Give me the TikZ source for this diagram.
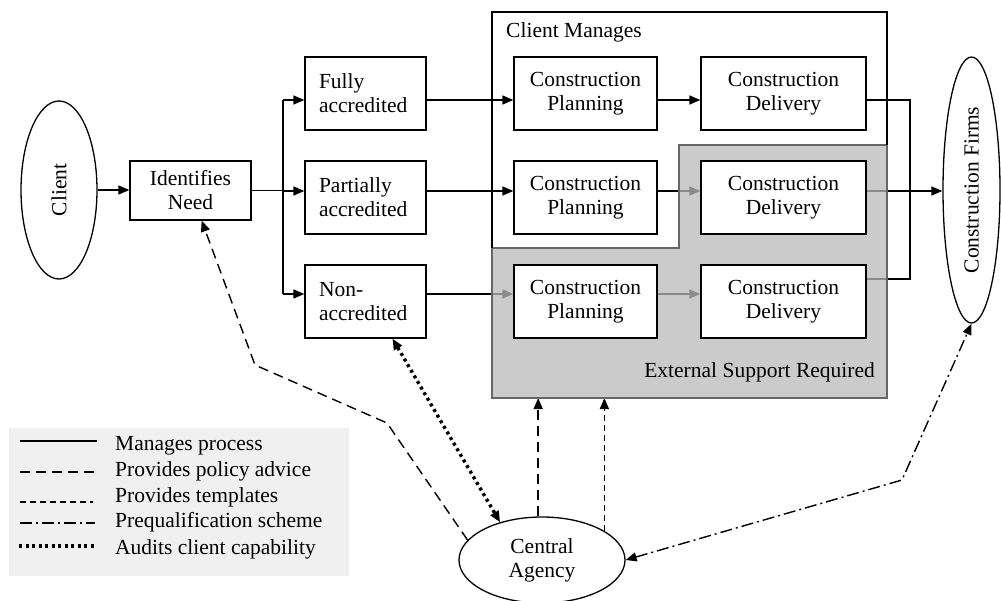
\documentclass[tikz,border=0pt]{standalone}
\usepackage{fontspec}
\setmainfont{Liberation Serif}
\usetikzlibrary{shapes.geometric,arrows.meta}
\pgfdeclarelayer{lines}
\pgfdeclarelayer{shade}
\pgfsetlayers{lines,shade,main}
\definecolor{legendbg}{HTML}{F0F0F0}
\begin{document}
\begin{tikzpicture}[x=1pt,y=-1pt,
  every node/.style={font=\fontsize{21.5}{24}\selectfont, inner sep=0pt},
  box/.style={draw, line width=1.3pt, fill=white, rectangle},
  ell/.style={draw, line width=1.3pt, ellipse, fill=white},
  conn/.style={line width=1.6pt},
  tip/.style={-{Triangle[length=11pt,width=9pt]}},
  bothtips/.style={{Triangle[length=11pt,width=9pt]}-{Triangle[length=11pt,width=9pt]}},
  policy/.style={line width=1.4pt, dash pattern=on 10pt off 6pt},
  tmpl/.style={line width=1.4pt, dash pattern=on 6pt off 4pt},
  prequal/.style={line width=1.4pt, dash pattern=on 12pt off 4pt on 2pt off 4pt},
  audit/.style={line width=3.4pt, dash pattern=on 3pt off 3.5pt},
  lefttxt/.style={text width=93pt, align=left},
]
\useasboundingbox (0,0) rectangle (1001,601);

% nodes
\node[ell, minimum width=76pt, minimum height=178pt] (client) at (59,190) {\rotatebox{90}{Client}};
\node[box, minimum width=121pt, minimum height=59pt, align=center] (idn) at (190.5,190.5) {Identifies\\Need};
\node[box, minimum width=121pt, minimum height=73pt, lefttxt] (fa) at (365.5,93.5) {Fully\\accredited};
\node[box, minimum width=121pt, minimum height=73pt, lefttxt] (pa) at (365.5,197.5) {Partially\\accredited};
\node[box, minimum width=121pt, minimum height=73pt, lefttxt] (na) at (365.5,301.5) {Non-\\accredited};

\node[box, minimum width=143pt, minimum height=73pt, align=center] (cp1) at (585.5,93.5) {Construction\\Planning};
\node[box, minimum width=143pt, minimum height=73pt, align=center] (cp2) at (585.5,197.5) {Construction\\Planning};
\node[box, minimum width=143pt, minimum height=73pt, align=center] (cp3) at (585.5,301.5) {Construction\\Planning};
\node[box, minimum width=165pt, minimum height=73pt, align=center] (cd1) at (783.5,93.5) {Construction\\Delivery};
\node[box, minimum width=165pt, minimum height=73pt, align=center] (cd2) at (783.5,197.5) {Construction\\Delivery};
\node[box, minimum width=165pt, minimum height=73pt, align=center] (cd3) at (783.5,301.5) {Construction\\Delivery};

\node[ell, minimum width=57pt, minimum height=266pt] (cf) at (971.5,190) {\rotatebox{90}{Construction Firms}};
\node[ell, minimum width=166pt, minimum height=86pt, align=center] (ca) at (542,560) {Central\\Agency};

\node[anchor=west] (cm) at (506,32) {Client Manages};
\node[anchor=east] (esr) at (875,372) {External Support Required};

% white "Client Manages" frame
\draw[line width=1.3pt] (492,248) -- (492,12) -- (887,12) -- (887,145);

% grey "external support" region
\begin{pgfonlayer}{shade}
\fill[black!27, fill opacity=0.75] (492,248) -- (679,248) -- (679,145) -- (887,145) -- (887,398) -- (492,398) -- cycle;
\draw[black!60, line width=1.3pt] (492,248) -- (679,248) -- (679,145) -- (887,145) -- (887,398) -- (492,398) -- cycle;
\end{pgfonlayer}

\coordinate (y1) at (0,100);
\coordinate (y2) at (0,191);
\coordinate (y3) at (0,294);
\coordinate (y3o) at (0,279);
\coordinate (bt) at (283,100);
\coordinate (bb) at (283,294);
\coordinate (jx) at (910,0);
\coordinate (p1) at (387,423);
\coordinate (p2) at (255,365);
\coordinate (p3) at (902,480);
\coordinate (ext) at (0,398);

\begin{pgfonlayer}{lines}
% legend
\fill[legendbg] (9,428) rectangle (349,576);
\node[anchor=west] (l1) at (115,446) {Manages process};
\node[anchor=west] (l2) at (115,471) {Provides policy advice};
\node[anchor=west] (l3) at (115,497) {Provides templates};
\node[anchor=west] (l4) at (115,522) {Prequalification scheme};
\node[anchor=west] (l5) at (115,549) {Audits client capability};
\draw[conn] (20,441) -- (97,441);
\draw[policy] (20,472) -- (97,472);
\draw[tmpl] (20,502) -- (93,502);
\draw[prequal] (20,523) -- (95,523);
\draw[audit] (19,546) -- (95,546);

% process flow
\draw[conn,tip] (client.east) -- (client.east -| idn.west);
\draw[conn] (idn.east) -- (idn.east -| bt);
\draw[conn] (bt) -- (bb);
\draw[conn,tip] (bt) -- (bt -| fa.west);
\draw[conn,tip] (bt |- y2) -- (y2 -| pa.west);
\draw[conn,tip] (bb) -- (bb -| na.west);

\draw[conn,tip] (fa.east |- y1) -- (cp1.west |- y1);
\draw[conn,tip] (cp1.east |- y1) -- (cd1.west |- y1);
\draw[conn,tip] (pa.east |- y2) -- (cp2.west |- y2);
\draw[conn,tip] (cp2.east |- y2) -- (cd2.west |- y2);
\draw[conn,tip] (na.east |- y3) -- (cp3.west |- y3);
\draw[conn,tip] (cp3.east |- y3) -- (cd3.west |- y3);

\draw[conn] (cd1.east |- y1) -- (jx |- y1) -- (jx |- y3o) -- (cd3.east |- y3o);
\draw[conn,tip] (cd2.east |- y2) -- (cf.west |- y2);

% central agency relations
\draw[policy,tip] (ca.165) -- (p1) -- (p2) -- (idn);
\draw[policy,tip] (ca.95) -- (ca.95 |- ext);
\draw[tmpl,tip] (ca.25) -- (ca.25 |- ext);
\draw[audit,bothtips] ([xshift=27pt]na.south) -- (ca.138);
\draw[prequal,bothtips] (ca.east) -- (p3) -- (cf.south);
\end{pgfonlayer}
\end{tikzpicture}
\end{document}
